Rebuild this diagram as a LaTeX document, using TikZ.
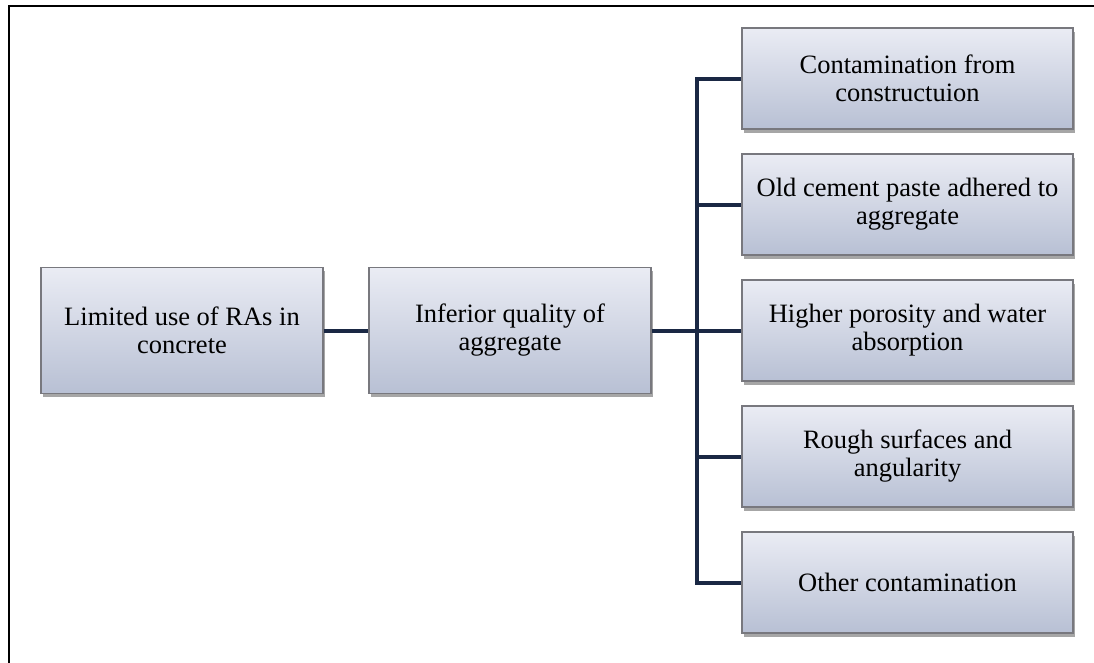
\documentclass[tikz,border=0pt]{standalone}
\usepackage{fontspec}
\setmainfont{Liberation Serif}
\usetikzlibrary{shadows}
\definecolor{boxtop}{RGB}{234,236,244}
\definecolor{boxbot}{RGB}{184,192,212}
\definecolor{boxedge}{RGB}{120,120,126}
\definecolor{link}{RGB}{26,40,68}
\tikzset{
  box/.style={rectangle, draw=boxedge, line width=1.6pt, top color=boxtop, bottom color=boxbot,
    align=center, inner sep=2pt, font=\fontsize{26.5}{28}\selectfont,
    drop shadow={shadow xshift=2pt, shadow yshift=-3.5pt, fill=black, opacity=0.35}},
  leftbox/.style={box, minimum width=282pt, minimum height=126pt},
  rightbox/.style={box, minimum width=331pt, minimum height=101pt},
  conn/.style={draw=link, line width=4pt, line join=miter}
}
\begin{document}
\begin{tikzpicture}[x=1pt,y=1pt]
\useasboundingbox (0,0) rectangle (1094,-662);
\draw[line width=2.2pt, line cap=rect] (1094,-6) -- (9,-6) -- (9,-662);
\node[leftbox] (A) at (182,-330.5) {Limited use of RAs in\\concrete};
\node[leftbox] (B) at (510,-330.5) {Inferior quality of\\aggregate};
\node[rightbox] (R1) at (907.5,-78.5) {Contamination from\\constructuion};
\node[rightbox] (R2) at (907.5,-204.5) {Old cement paste adhered to\\aggregate};
\node[rightbox] (R3) at (907.5,-330.5) {Higher porosity and water\\absorption};
\node[rightbox] (R4) at (907.5,-456.5) {Rough surfaces and\\angularity};
\node[rightbox] (R5) at (907.5,-582.5) {Other contamination};
\coordinate (J) at (697,-330.5);
\draw[conn] (A.east) -- (B.west);
\draw[conn] (B.east) -- (J);
\draw[conn] (R1.west) -| (J) |- (R5.west);
\draw[conn] (J |- R2.west) -- (R2.west);
\draw[conn] (J |- R3.west) -- (R3.west);
\draw[conn] (J |- R4.west) -- (R4.west);
\end{tikzpicture}
\end{document}
